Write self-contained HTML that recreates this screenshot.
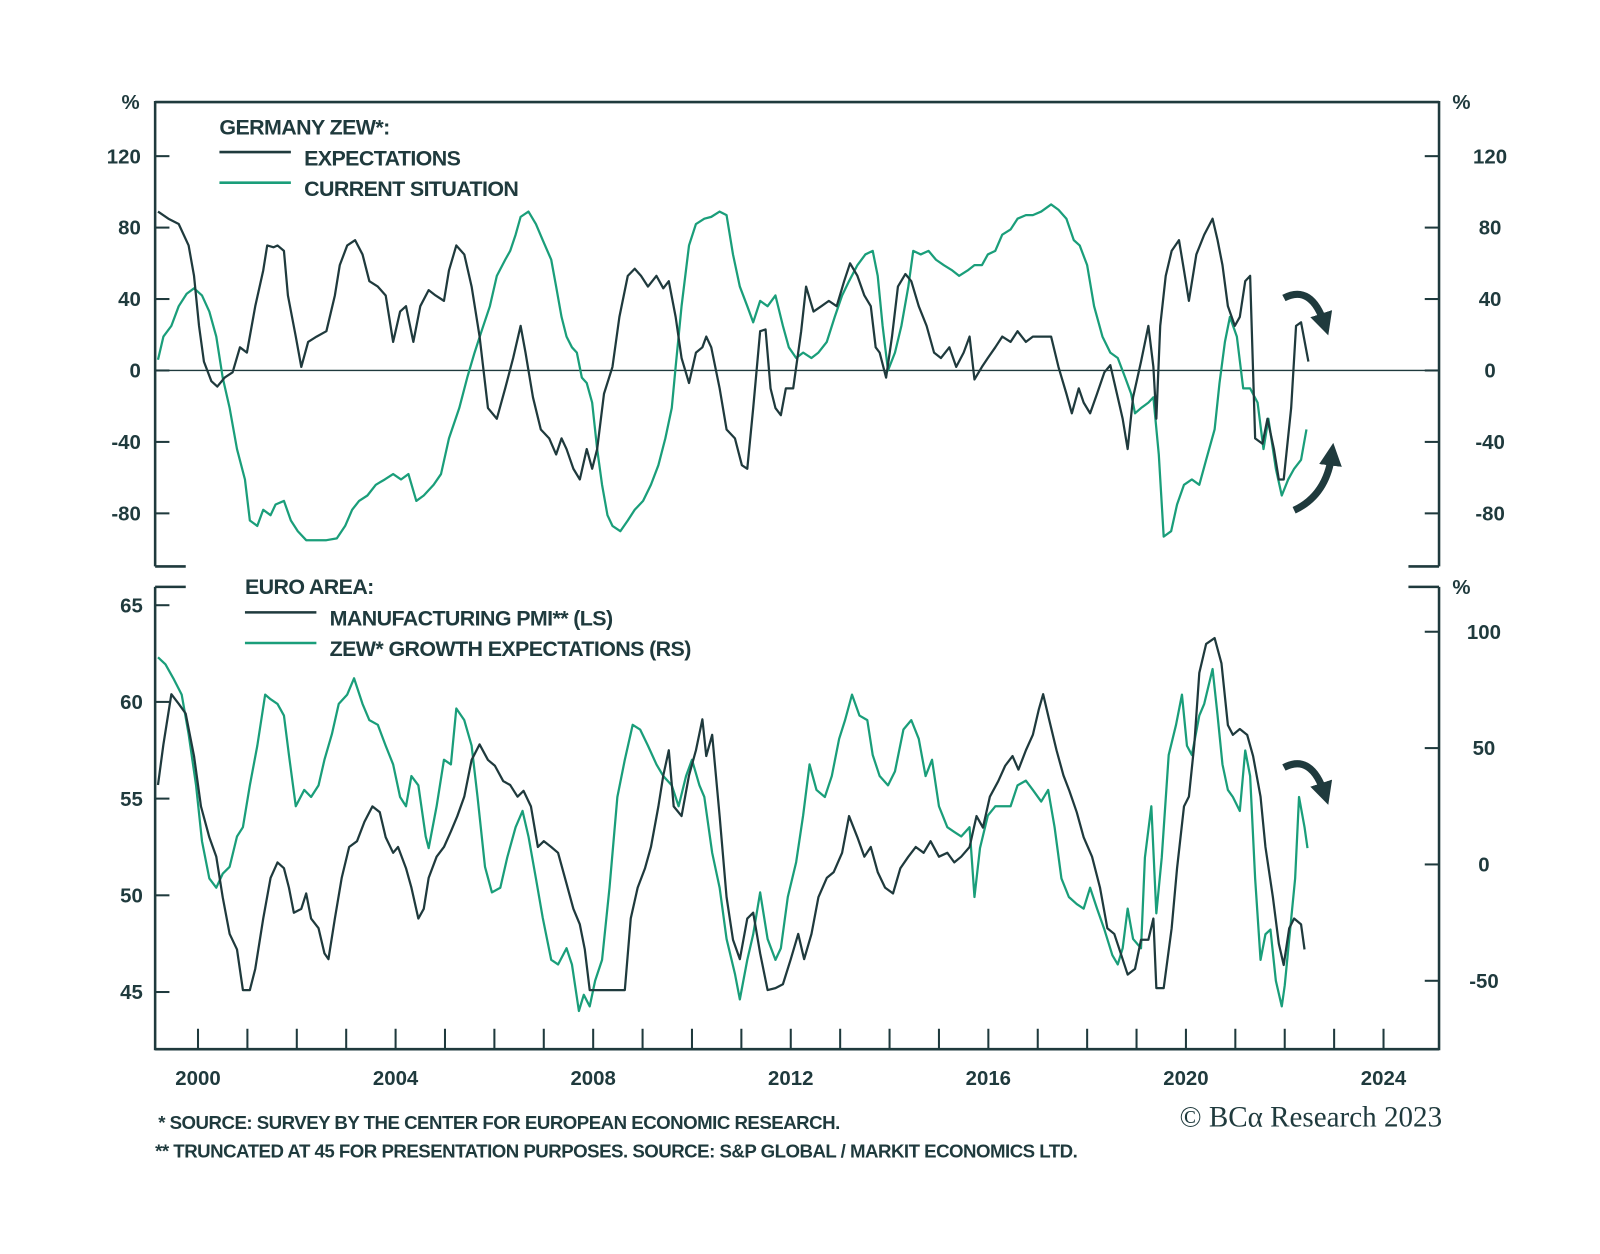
<!DOCTYPE html>
<html><head><meta charset="utf-8"><style>
html,body{margin:0;padding:0;background:#fff;}
svg{display:block;}
text{font-family:"Liberation Sans",sans-serif;fill:#1f3a3d;}
.b{font-weight:bold;font-size:20px;}
.lg{font-size:21px;letter-spacing:-0.6px;font-weight:bold;}
.fn{font-size:18.3px;letter-spacing:-0.5px;font-weight:bold;}
</style></head><body>
<svg id="chart" width="1600" height="1254" viewBox="0 0 1567.7 1228.7" xmlns="http://www.w3.org/2000/svg">
<defs>
<marker id="ah" viewBox="0 0 10 10" refX="5" refY="5" markerWidth="3.2" markerHeight="3.2" orient="auto"><path d="M0,0 L10,5 L0,10 z" fill="#1f3a3d"/></marker>
</defs>
<g id="axes"></g>
<g id="series"></g>
<g>
<text x="215" y="132" class="lg">GERMANY ZEW*:</text>
<line x1="215" y1="149" x2="285" y2="149" stroke="#1f3a3d" stroke-width="2.5"/>
<text x="298" y="162" class="lg">EXPECTATIONS</text>
<line x1="215" y1="179" x2="285" y2="179" stroke="#1a9e7a" stroke-width="2.5"/>
<text x="298" y="192" class="lg">CURRENT SITUATION</text>
</g>
<g>
<text x="240" y="582" class="lg">EURO AREA:</text>
<line x1="240" y1="600" x2="310" y2="600" stroke="#1f3a3d" stroke-width="2.5"/>
<text x="323" y="613" class="lg">MANUFACTURING PMI** (LS)</text>
<line x1="240" y1="630" x2="310" y2="630" stroke="#1a9e7a" stroke-width="2.5"/>
<text x="323" y="643" class="lg">ZEW* GROWTH EXPECTATIONS (RS)</text>
</g>
<g fill="none" stroke="#1f3a3d" stroke-width="7">
<path d="M1258,292 Q1285,278 1298,318" marker-end="url(#ah)"/>
<path d="M1268,500 Q1300,485 1305,445" marker-end="url(#ah)"/>
<path d="M1258,752 Q1285,738 1298,778" marker-end="url(#ah)"/>
</g>
<text x="155" y="1106" class="fn">*  SOURCE: SURVEY BY THE CENTER FOR EUROPEAN ECONOMIC RESEARCH.</text>
<text x="152" y="1134" class="fn">** TRUNCATED AT 45 FOR PRESENTATION PURPOSES. SOURCE: S&amp;P GLOBAL / MARKIT ECONOMICS LTD.</text>
<text x="1413" y="1104" text-anchor="end" style="font-family:'Liberation Serif',serif;font-size:28.5px;">© BCα Research 2023</text>
</svg>
<script>
const expDates=[1999.19,1999.40,1999.61,1999.81,1999.92,2000.02,2000.12,2000.27,2000.39,2000.54,2000.70,2000.85,2000.99,2001.16,2001.32,2001.40,2001.53,2001.61,2001.74,2001.82,2001.98,2002.09,2002.23,2002.40,2002.60,2002.77,2002.87,2003.02,2003.18,2003.33,2003.47,2003.64,2003.80,2003.95,2004.09,2004.21,2004.36,2004.50,2004.67,2004.81,2004.98,2005.08,2005.23,2005.39,2005.54,2005.70,2005.87,2006.05,2006.22,2006.38,2006.53,2006.63,2006.78,2006.94,2007.11,2007.25,2007.36,2007.46,2007.60,2007.73,2007.87,2007.98,2008.08,2008.22,2008.39,2008.53,2008.70,2008.84,2008.97,2009.11,2009.28,2009.42,2009.53,2009.67,2009.79,2009.94,2010.08,2010.21,2010.29,2010.39,2010.56,2010.70,2010.87,2011.01,2011.12,2011.24,2011.38,2011.49,2011.59,2011.69,2011.80,2011.90,2012.05,2012.21,2012.31,2012.46,2012.62,2012.77,2012.93,2013.08,2013.20,2013.35,2013.49,2013.62,2013.72,2013.80,2013.93,2014.05,2014.17,2014.32,2014.44,2014.59,2014.75,2014.90,2015.04,2015.21,2015.35,2015.50,2015.62,2015.72,2015.87,2015.99,2016.14,2016.28,2016.45,2016.59,2016.76,2016.90,2017.07,2017.27,2017.42,2017.58,2017.69,2017.83,2017.93,2018.06,2018.20,2018.35,2018.47,2018.62,2018.72,2018.82,2018.93,2019.09,2019.24,2019.34,2019.40,2019.48,2019.59,2019.71,2019.86,2019.96,2020.06,2020.21,2020.37,2020.54,2020.64,2020.74,2020.85,2020.99,2021.09,2021.20,2021.30,2021.40,2021.55,2021.65,2021.78,2021.88,2021.98,2022.13,2022.23,2022.33,2022.48];
const expValues=[89,85,82,70,53,25,5,-6,-9,-4,-1,13,10,36,56,70,69,70,67,42,19,2,16,19,22,42,59,70,73,65,50,47,42,16,33,36,16,36,45,42,39,56,70,65,47,19,-21,-27,-10,7,25,10,-15,-33,-38,-47,-38,-44,-55,-61,-44,-55,-44,-13,2,30,53,57,53,47,53,46,50,30,7,-7,10,13,19,13,-10,-33,-38,-53,-55,-21,22,23,-10,-21,-25,-10,-10,22,47,33,36,39,36,50,60,53,42,36,13,10,-4,19,47,54,50,36,25,10,7,13,2,10,19,-5,2,7,13,19,16,22,16,19,19,19,2,-13,-24,-10,-18,-24,-13,-1,3,-15,-27,-44,-15,5,25,2,-27,25,53,67,73,56,39,65,76,85,73,59,36,25,30,50,53,-38,-41,-27,-44,-61,-61,-21,25,27,5];
const curDates=[1999.19,1999.30,1999.46,1999.61,1999.77,1999.92,2000.08,2000.23,2000.37,2000.50,2000.64,2000.79,2000.95,2001.05,2001.20,2001.32,2001.47,2001.57,2001.74,2001.88,2002.02,2002.19,2002.40,2002.60,2002.81,2002.98,2003.12,2003.26,2003.43,2003.60,2003.78,2003.95,2004.11,2004.26,2004.42,2004.57,2004.77,2004.92,2005.08,2005.29,2005.45,2005.60,2005.74,2005.91,2006.05,2006.22,2006.32,2006.43,2006.53,2006.69,2006.84,2006.98,2007.15,2007.25,2007.36,2007.46,2007.57,2007.67,2007.77,2007.87,2007.98,2008.08,2008.18,2008.29,2008.39,2008.55,2008.70,2008.84,2009.01,2009.17,2009.32,2009.46,2009.59,2009.67,2009.79,2009.94,2010.08,2010.25,2010.39,2010.56,2010.70,2010.83,2010.97,2011.12,2011.24,2011.38,2011.53,2011.69,2011.84,2011.96,2012.11,2012.25,2012.42,2012.56,2012.73,2012.89,2013.04,2013.18,2013.35,2013.51,2013.66,2013.76,2013.86,2013.97,2014.11,2014.24,2014.38,2014.48,2014.63,2014.79,2014.94,2015.10,2015.27,2015.41,2015.58,2015.72,2015.87,2015.99,2016.14,2016.28,2016.45,2016.59,2016.76,2016.90,2017.07,2017.27,2017.42,2017.58,2017.73,2017.85,2018.00,2018.14,2018.31,2018.47,2018.62,2018.77,2018.89,2018.97,2019.09,2019.24,2019.34,2019.45,2019.55,2019.70,2019.82,2019.96,2020.12,2020.27,2020.41,2020.58,2020.68,2020.79,2020.89,2021.03,2021.16,2021.30,2021.45,2021.57,2021.67,2021.82,2021.94,2022.07,2022.19,2022.33,2022.44];
const curValues=[6,19,25,36,43,46,42,33,19,-4,-21,-44,-61,-84,-87,-78,-81,-75,-73,-84,-90,-95,-95,-95,-94,-87,-78,-73,-70,-64,-61,-58,-61,-58,-73,-70,-64,-58,-38,-21,-4,10,22,36,53,62,67,76,86,89,82,73,62,47,30,19,13,10,-4,-7,-18,-44,-64,-81,-87,-90,-84,-78,-73,-64,-53,-38,-21,2,36,70,82,85,86,89,87,65,47,36,27,39,36,42,25,13,7,10,7,10,16,30,42,50,59,65,67,53,25,0,10,25,47,67,65,67,62,59,56,53,56,59,59,65,67,76,79,85,87,87,89,93,90,85,73,70,59,36,19,10,7,-4,-13,-24,-21,-18,-15,-47,-93,-90,-75,-64,-61,-64,-50,-33,-7,16,30,19,-10,-10,-18,-44,-27,-55,-70,-61,-55,-50,-33];
const pmiDates=[1999.19,1999.30,1999.46,1999.61,1999.75,1999.92,2000.06,2000.23,2000.37,2000.50,2000.64,2000.79,2000.91,2001.05,2001.16,2001.32,2001.47,2001.61,2001.74,2001.84,2001.94,2002.09,2002.19,2002.29,2002.44,2002.56,2002.64,2002.77,2002.91,2003.06,2003.22,2003.37,2003.53,2003.68,2003.80,2003.95,2004.05,2004.21,2004.32,2004.46,2004.57,2004.67,2004.83,2004.98,2005.12,2005.25,2005.39,2005.54,2005.70,2005.87,2006.01,2006.18,2006.32,2006.47,2006.59,2006.74,2006.88,2007.00,2007.15,2007.29,2007.46,2007.60,2007.73,2007.83,2007.93,2008.08,2008.29,2008.49,2008.64,2008.76,2008.90,2009.05,2009.17,2009.32,2009.42,2009.53,2009.63,2009.79,2009.94,2010.08,2010.21,2010.29,2010.41,2010.56,2010.70,2010.83,2010.97,2011.12,2011.24,2011.38,2011.53,2011.69,2011.84,2012.00,2012.15,2012.27,2012.42,2012.56,2012.73,2012.87,2013.04,2013.18,2013.35,2013.49,2013.62,2013.76,2013.91,2014.07,2014.22,2014.38,2014.53,2014.69,2014.83,2015.00,2015.17,2015.31,2015.45,2015.62,2015.76,2015.89,2016.03,2016.20,2016.34,2016.49,2016.61,2016.76,2016.90,2017.02,2017.11,2017.23,2017.38,2017.52,2017.64,2017.79,2017.93,2018.10,2018.26,2018.41,2018.55,2018.68,2018.82,2018.97,2019.09,2019.24,2019.34,2019.40,2019.55,2019.71,2019.82,2019.96,2020.06,2020.17,2020.27,2020.41,2020.58,2020.72,2020.85,2020.95,2021.09,2021.24,2021.36,2021.51,2021.61,2021.76,2021.88,2021.98,2022.09,2022.19,2022.33,2022.40];
const pmiValues=[55.7,57.8,60.4,59.9,59.4,57.2,54.6,53.0,52.0,49.9,48.0,47.2,45.1,45.1,46.2,48.8,50.9,51.7,51.4,50.4,49.1,49.3,50.1,48.8,48.3,47.0,46.7,48.8,50.9,52.5,52.8,53.8,54.6,54.3,53.0,52.2,52.5,51.4,50.4,48.8,49.3,50.9,52.0,52.5,53.3,54.1,55.1,57.0,57.8,57.0,56.7,55.9,55.7,55.1,55.4,54.6,52.5,52.8,52.5,52.2,50.6,49.3,48.5,47.2,45.1,45.1,45.1,45.1,45.1,48.8,50.4,51.4,52.5,54.6,56.2,57.5,54.6,54.1,56.2,57.5,59.1,57.2,58.3,54.1,49.9,47.7,46.7,48.8,49.1,47.0,45.1,45.2,45.4,46.7,48.0,46.7,48.0,49.9,50.9,51.2,52.2,54.1,53.0,52.0,52.5,51.2,50.4,50.1,51.4,52.0,52.5,52.2,52.8,52.0,52.2,51.7,52.0,52.5,54.1,53.5,55.1,55.9,56.7,57.2,56.5,57.5,58.3,59.6,60.4,59.1,57.5,56.2,55.4,54.3,53.0,52.0,50.4,48.3,48.0,47.0,45.9,46.2,47.7,47.7,48.8,45.2,45.2,48.3,51.4,54.6,55.1,57.8,61.5,63.0,63.3,62.0,58.8,58.3,58.6,58.3,57.2,55.1,52.5,49.9,47.5,46.4,48.3,48.8,48.5,47.2];
const zgDates=[1999.19,1999.34,1999.50,1999.67,1999.81,1999.96,2000.08,2000.23,2000.37,2000.50,2000.64,2000.79,2000.91,2001.05,2001.20,2001.36,2001.47,2001.61,2001.74,2001.84,2001.98,2002.15,2002.29,2002.44,2002.56,2002.71,2002.85,2003.02,2003.16,2003.33,2003.47,2003.64,2003.80,2003.95,2004.09,2004.21,2004.32,2004.46,2004.61,2004.67,2004.83,2004.98,2005.12,2005.23,2005.39,2005.54,2005.66,2005.81,2005.95,2006.12,2006.26,2006.43,2006.57,2006.69,2006.84,2006.98,2007.15,2007.29,2007.46,2007.57,2007.71,2007.81,2007.93,2008.04,2008.18,2008.33,2008.49,2008.64,2008.80,2008.95,2009.11,2009.28,2009.42,2009.59,2009.73,2009.88,2010.00,2010.15,2010.25,2010.41,2010.56,2010.70,2010.87,2010.97,2011.12,2011.24,2011.38,2011.53,2011.69,2011.80,2011.94,2012.11,2012.25,2012.38,2012.52,2012.69,2012.83,2012.98,2013.10,2013.24,2013.39,2013.55,2013.66,2013.80,2013.97,2014.11,2014.28,2014.44,2014.59,2014.73,2014.86,2015.00,2015.17,2015.31,2015.45,2015.62,2015.72,2015.83,2015.99,2016.14,2016.28,2016.45,2016.59,2016.76,2016.90,2017.07,2017.21,2017.34,2017.48,2017.63,2017.79,2017.93,2018.06,2018.20,2018.35,2018.51,2018.62,2018.72,2018.82,2018.93,2019.09,2019.17,2019.30,2019.40,2019.51,2019.65,2019.80,2019.92,2020.02,2020.12,2020.27,2020.37,2020.54,2020.64,2020.74,2020.85,2020.95,2021.09,2021.20,2021.30,2021.40,2021.51,2021.61,2021.71,2021.82,2021.94,2022.00,2022.11,2022.21,2022.29,2022.40,2022.46];
const zgValues=[89,86,80,73,56,34,10,-6,-10,-4,-1,12,16,34,51,73,71,69,64,47,25,32,29,34,45,56,69,73,80,69,62,60,51,43,29,25,38,34,12,7,25,45,43,67,62,51,29,-1,-12,-10,3,16,23,12,-6,-23,-41,-43,-36,-43,-63,-56,-61,-50,-41,-10,29,45,60,58,51,43,38,34,25,38,45,34,29,5,-10,-32,-47,-58,-41,-30,-12,-32,-41,-36,-14,1,21,43,32,29,38,54,62,73,64,62,47,38,34,40,58,62,54,38,45,25,16,14,12,16,-14,7,21,25,25,25,34,36,32,27,32,16,-6,-14,-17,-19,-10,-19,-28,-39,-43,-36,-19,-32,-36,3,25,-21,3,47,60,73,51,47,64,69,84,64,43,32,29,23,49,38,-6,-41,-30,-28,-50,-61,-52,-28,-6,29,16,7];
const topTicks=[120,80,40,0,-40,-80];
const pmiTicks=[65,60,55,50,45];
const zgTicks=[100,50,0,-50];
const yearLabels=[2000,2004,2008,2012,2016,2020,2024];

const NS='http://www.w3.org/2000/svg';
const X0=152,X1=1410,TT=100,TB=555,BT=575,BB=1028;
const DK='#1f3a3d',GR='#1a9e7a';
const xs=y=>194+(y-2000)*48.4;
const yTop=v=>363-v*1.75;
const yPmi=v=>972-(v-45)*18.95;
const yZg=v=>847-v*2.28;
const axes=document.getElementById('axes'),ser=document.getElementById('series');
function mk(tag,attrs,parent){const e=document.createElementNS(NS,tag);for(const k in attrs)e.setAttribute(k,attrs[k]);parent.appendChild(e);return e;}
function ln(x1,y1,x2,y2,w,c,name){const e=mk('line',{x1,y1,x2,y2,stroke:c||DK,'stroke-width':w},axes);

return e;}
function tx(x,y,s,anchor,name){const e=mk('text',{x,y,'text-anchor':anchor,class:'b'},axes);e.textContent=s;

return e;}
ln(X0,TT,X1,TT,2.5,DK,'top-frame');
ln(X0,TT-1,X0,TB,2.5,DK,'top-left-axis');
ln(X1,TT-1,X1,TB,2.5,DK,'top-right-axis');
ln(X0,TB,X0+30,TB,2.5,DK,'top-bottom-corner-left');
ln(X1-30,TB,X1,TB,2.5,DK,'top-bottom-corner-right');
ln(X0,BT,X0+30,BT,2.5,DK,'bottom-top-corner-left');
ln(X1-30,BT,X1,BT,2.5,DK,'bottom-top-corner-right');
ln(X0,BT,X0,BB+1,2.5,DK,'bottom-left-axis');
ln(X1,BT,X1,BB+1,2.5,DK,'bottom-right-axis');
ln(X0,BB,X1,BB,2.5,DK,'x-axis');
ln(X0,yTop(0),X1,yTop(0),1.3,DK,'zero-line');
tx(128,107,'%','middle','top-left-unit');
tx(1432,107,'%','middle','top-right-unit');
tx(1432,582,'%','middle','bottom-right-unit');
topTicks.forEach(v=>{const y=yTop(v);
ln(X0,y,X0+14,y,2,DK,'top-left-tick');ln(X1-14,y,X1,y,2,DK,'top-right-tick');
tx(138,y+7,String(v),'end','top-left-tick-label');tx(1460,y+7,String(v),'middle','top-right-tick-label');});
pmiTicks.forEach(v=>{const y=yPmi(v);ln(X0,y,X0+14,y,2,DK,'pmi-tick');tx(140,y+7,String(v),'end','pmi-tick-label');});
zgTicks.forEach(v=>{const y=yZg(v);ln(X1-14,y,X1,y,2,DK,'zew-growth-tick');tx(1454,y+7,String(v),'middle','zew-growth-tick-label');});
for(let yr=2000;yr<=2024;yr++){const x=xs(yr);ln(x,BB-20,x,BB,2,DK,'year-tick');}
yearLabels.forEach(yr=>tx(xs(yr),1063,String(yr),'middle','year-label'));
function line(d,v,yf,c,name){const pts=d.map((t,i)=>xs(t).toFixed(1)+','+yf(v[i]).toFixed(1)).join(' ');
const e=mk('polyline',{points:pts,fill:'none',stroke:c,'stroke-width':2.2,'stroke-linejoin':'round'},ser);

}
line(curDates,curValues,yTop,GR,'current-situation-line');
line(expDates,expValues,yTop,DK,'expectations-line');
line(zgDates,zgValues,yZg,GR,'zew-growth-line');
line(pmiDates,pmiValues,yPmi,DK,'pmi-line');
</script>
</body></html>
